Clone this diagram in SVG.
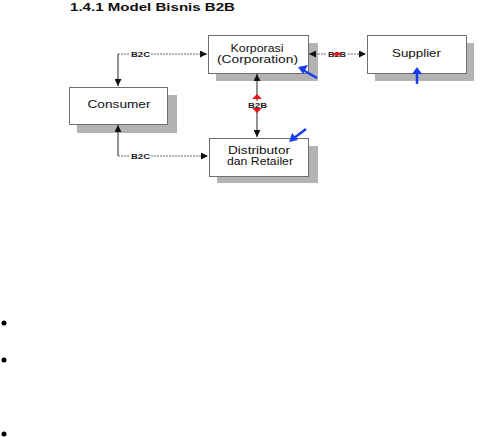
<svg xmlns="http://www.w3.org/2000/svg" width="481" height="437" viewBox="0 0 481 437">
<style>
.title{font-family:"Liberation Sans",Arial,sans-serif;font-weight:bold;font-size:11px;fill:#111}
.shadow{fill:#b3b3b3}
.box{fill:#fff;stroke:#6e6e6e;stroke-width:1}
.lbl{font-family:"Liberation Sans",Arial,sans-serif;font-size:11px;fill:#111;text-anchor:middle}
.edge{fill:none;stroke:#222;stroke-width:1}
.hedge{fill:none;stroke:#666;stroke-width:1;stroke-dasharray:2 1}
.el{font-family:"Liberation Sans",Arial,sans-serif;font-size:7px;font-weight:bold;fill:#222;text-anchor:middle}
.bg{fill:#fff}
.red{fill:#e8141a}
.blue{fill:none;stroke:#1a3cf0;stroke-width:2.5}
.bluehead{fill:#1a3cf0}
</style>
<defs>
<marker id="ah" viewBox="0 0 8 8" refX="8" refY="4" markerWidth="7" markerHeight="7" markerUnits="userSpaceOnUse" orient="auto-start-reverse">
<path d="M0,0 L8,4 L0,8 z" fill="#111"/>
</marker>
</defs>
<rect width="481" height="437" fill="#fff"/>
<text class="title" x="70" y="11" textLength="165" lengthAdjust="spacingAndGlyphs">1.4.1 Model Bisnis B2B</text>

<g id="korporasi">
<rect class="shadow" x="216" y="43" width="102" height="38"/>
<rect class="box" x="208.5" y="35.5" width="100" height="38"/>
<text class="lbl" x="257" y="52" textLength="53" lengthAdjust="spacingAndGlyphs">Korporasi</text>
<text class="lbl" x="257.5" y="62.5" textLength="81" lengthAdjust="spacingAndGlyphs">(Corporation)</text>
</g>
<g id="supplier">
<rect class="shadow" x="375" y="43" width="99" height="38"/>
<rect class="box" x="367.5" y="35.5" width="99" height="38"/>
<text class="lbl" x="416.5" y="57" textLength="49" lengthAdjust="spacingAndGlyphs">Supplier</text>
</g>
<g id="consumer">
<rect class="shadow" x="77" y="95" width="100" height="38"/>
<rect class="box" x="69.5" y="87.5" width="98" height="37"/>
<text class="lbl" x="119" y="108" textLength="63" lengthAdjust="spacingAndGlyphs">Consumer</text>
</g>
<g id="distributor">
<rect class="shadow" x="217" y="146" width="101" height="37"/>
<rect class="box" x="209.5" y="138.5" width="99" height="38"/>
<text class="lbl" x="259" y="154" textLength="62" lengthAdjust="spacingAndGlyphs">Distributor</text>
<text class="lbl" x="260" y="165" textLength="66" lengthAdjust="spacingAndGlyphs">dan Retailer</text>
</g>

<g id="connectors">
<path class="edge" d="M118,86 L118,54"  marker-start="url(#ah)"/>
<path class="hedge" d="M118,54 L207,54" marker-end="url(#ah)"/>
<rect class="bg" x="130" y="51" width="21" height="7"/>
<text class="el" x="140.5" y="57" textLength="19" lengthAdjust="spacingAndGlyphs">B2C</text>
<path class="edge" d="M118,125 L118,156" marker-start="url(#ah)"/>
<path class="hedge" d="M118,156 L208,156" marker-end="url(#ah)"/>
<rect class="bg" x="130" y="153" width="21" height="7"/>
<text class="el" x="140.5" y="159" textLength="19" lengthAdjust="spacingAndGlyphs">B2C</text>
<path class="hedge" d="M309,54 L366,54" marker-start="url(#ah)" marker-end="url(#ah)"/>
<rect class="bg" x="327" y="51" width="20" height="7"/>
<text class="el" x="337" y="57" textLength="18" lengthAdjust="spacingAndGlyphs">B2B</text>
<path class="red" d="M331,54 L337,52 L343,54 L337,56 z"/>
<path class="edge" d="M257,74 L257,137" marker-start="url(#ah)" marker-end="url(#ah)"/>
<rect class="bg" x="247" y="101" width="21" height="8"/>
<text class="el" x="257.5" y="107.5" textLength="19" lengthAdjust="spacingAndGlyphs">B2B</text>
<path class="red" d="M257,94 L262,99 L252,99 z"/>
<path class="red" d="M252,108 L262,108 L257,113 z"/>
</g>

<g id="blue-arrows">
<path class="blue" d="M317,78 L303,70"/>
<path class="bluehead" d="M298,67 L308,65 L303,74 z"/>
<path class="blue" d="M417,84 L417,73"/>
<path class="bluehead" d="M417,67 L422,74 L412,74 z"/>
<path class="blue" d="M306,129 L294,138"/>
<path class="bluehead" d="M289,142 L292,133 L298,140 z"/>
</g>

<g id="bullets">
<circle cx="4" cy="323" r="2.5" fill="#000"/>
<circle cx="4" cy="360" r="2.5" fill="#000"/>
<circle cx="4" cy="434" r="2.5" fill="#000"/>
</g>
</svg>
